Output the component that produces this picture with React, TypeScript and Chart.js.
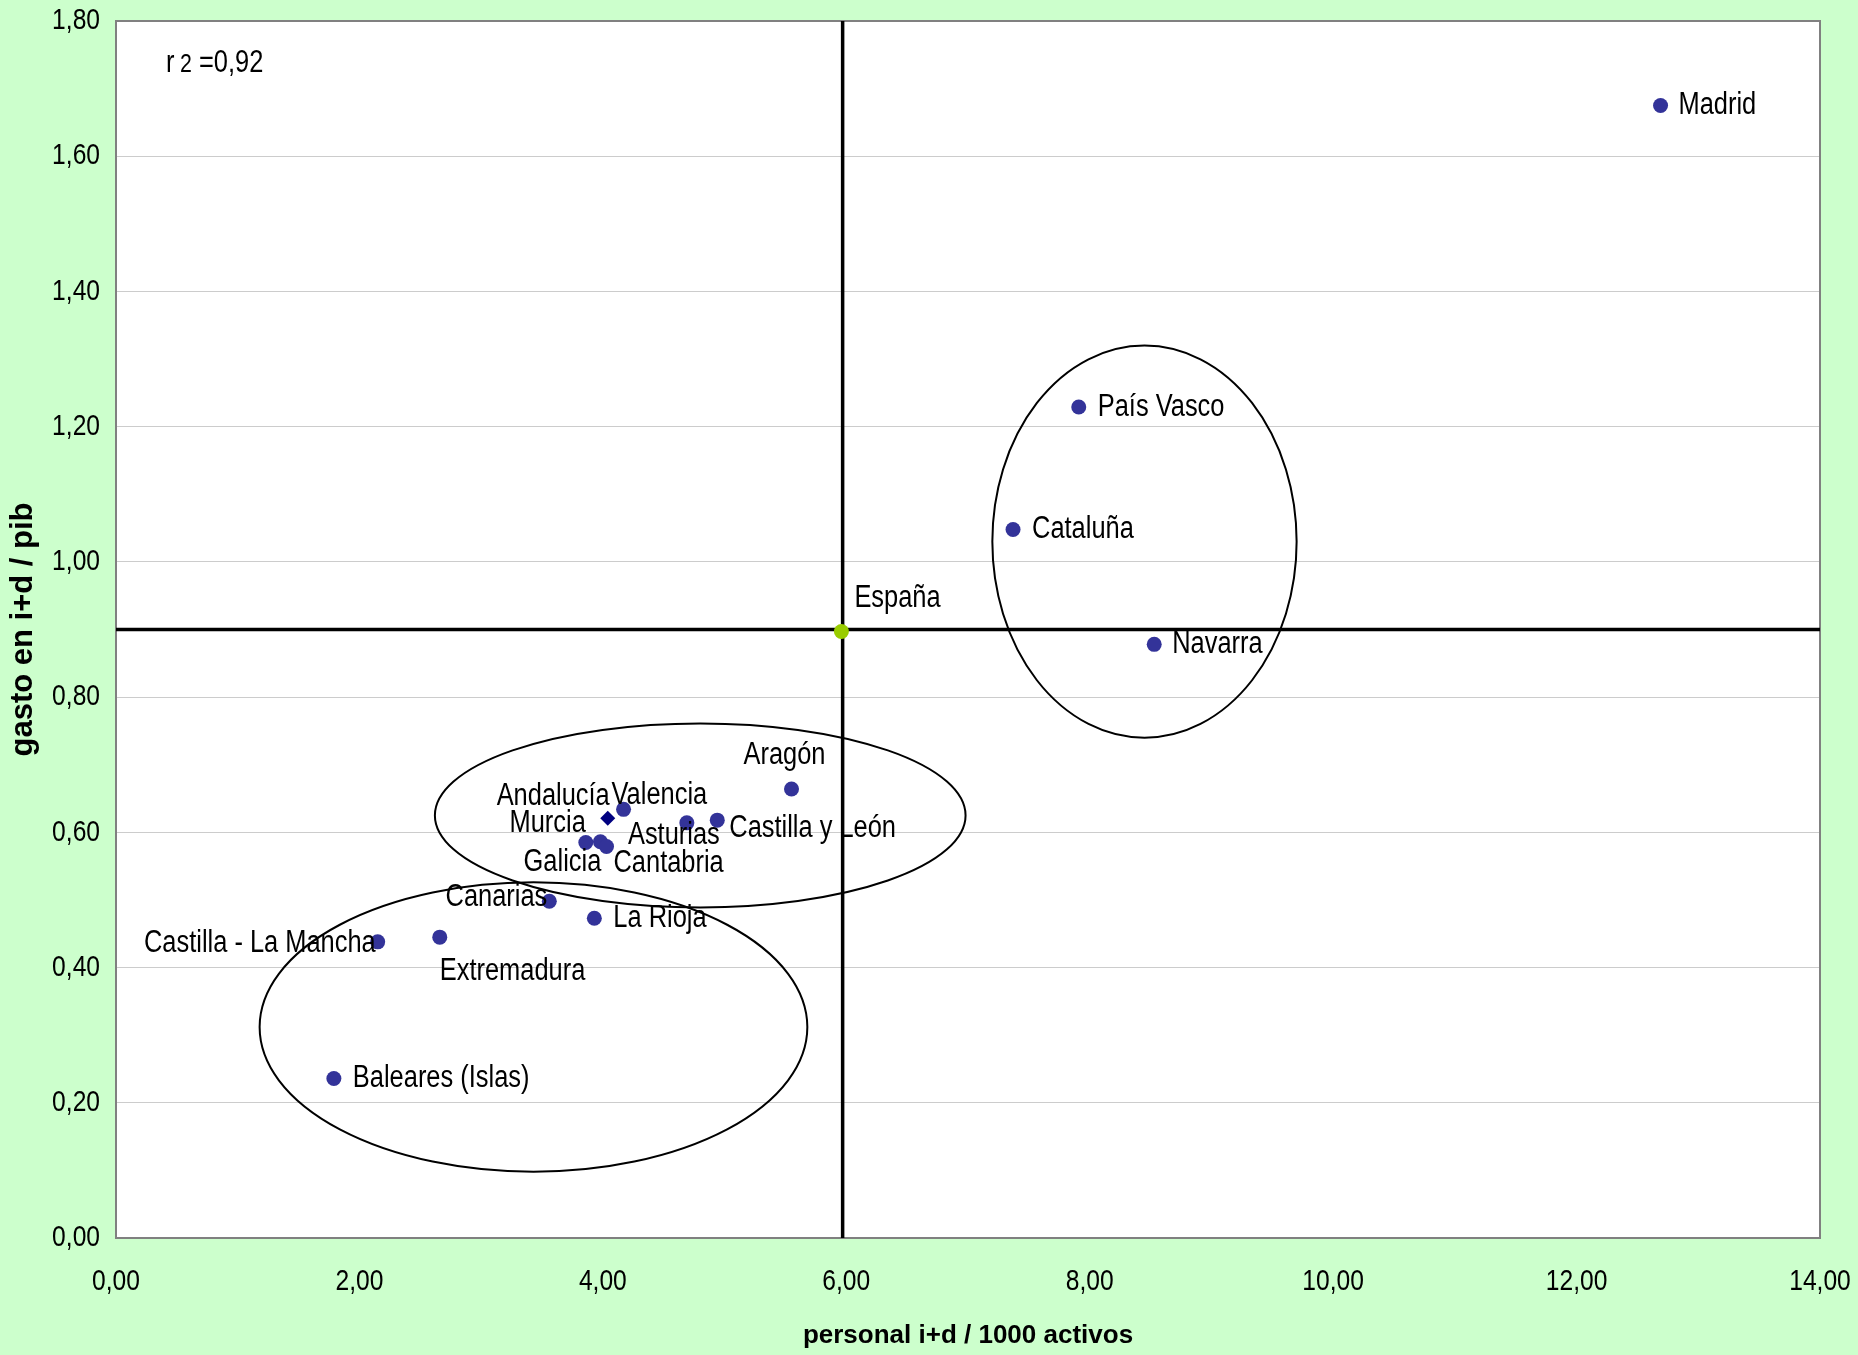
import React, { useEffect, useRef } from "react";
import { Chart, registerables } from "chart.js";

Chart.register(...registerables);

// ---- data ----
const regionNames = [
  "Madrid", "País Vasco", "Cataluña", "Navarra", "España", "Aragón",
  "Andalucía", "Valencia", "Asturias", "Castilla y León", "Murcia",
  "Galicia", "Cantabria", "Canarias", "La Rioja", "Castilla - La Mancha",
  "Extremadura", "Baleares (Islas)",
];
const personalID = [
  12.69, 7.91, 7.37, 8.53, 5.96, 5.55,
  4.04, 4.17, 4.69, 4.94, 3.86,
  3.98, 4.03, 3.56, 3.93, 2.15,
  2.66, 1.79,
];
const gastoPIB = [
  1.675, 1.229, 1.048, 0.878, 0.897, 0.664,
  0.621, 0.634, 0.614, 0.618, 0.585,
  0.586, 0.579, 0.498, 0.473, 0.438,
  0.445, 0.236,
];
const referenceX = 5.97;
const referenceY = 0.9;
const xTicksMax = 14;
const xTickStep = 2;
const yTicksMax = 1.8;
const yTickStep = 0.2;
const r2Text = "0,92";

// ellipses (grouping annotations) in data units
const ellipseCenterX = [8.45, 4.8, 3.43];
const ellipseCenterY = [1.03, 0.625, 0.312];
const ellipseRadiusX = [1.25, 2.18, 2.25];
const ellipseRadiusY = [0.29, 0.136, 0.214];

// ---- label placement (pixels) ----
const labelStyle: Record<string, { align: CanvasTextAlign; dx: number; dy: number }> = {
  "Madrid": { align: "left", dx: 18, dy: 0 },
  "País Vasco": { align: "left", dx: 19, dy: 0 },
  "Cataluña": { align: "left", dx: 19, dy: 0 },
  "Navarra": { align: "left", dx: 18, dy: 0 },
  "España": { align: "left", dx: 13, dy: -33 },
  "Aragón": { align: "center", dx: -7, dy: -34 },
  "Andalucía": { align: "right", dx: 2, dy: -22 },
  "Valencia": { align: "left", dx: -12, dy: -14 },
  "Asturias": { align: "center", dx: -13, dy: 13 },
  "Castilla y León": { align: "left", dx: 12, dy: 8 },
  "Murcia": { align: "right", dx: 0, dy: -19 },
  "Galicia": { align: "center", dx: -38, dy: 21 },
  "Cantabria": { align: "left", dx: 7, dy: 17 },
  "Canarias": { align: "right", dx: -2, dy: -4 },
  "La Rioja": { align: "left", dx: 19, dy: 0 },
  "Castilla - La Mancha": { align: "right", dx: -2, dy: 2 },
  "Extremadura": { align: "left", dx: 0, dy: 34 },
  "Baleares (Islas)": { align: "left", dx: 19, dy: 0 },
};

const REGULAR = '"Liberation Sans", Arial, sans-serif';
const CONDENSE = 0.82;

const fmt = (v: number) => v.toFixed(2).replace(".", ",");

function drawCondensed(
  ctx: CanvasRenderingContext2D,
  text: string,
  x: number,
  y: number,
  align: CanvasTextAlign,
  size: number,
  baseline: CanvasTextBaseline = "middle"
) {
  ctx.save();
  ctx.font = `${size}px ${REGULAR}`;
  ctx.textAlign = align;
  ctx.textBaseline = baseline;
  ctx.translate(x, y);
  ctx.scale(CONDENSE, 1);
  ctx.fillText(text, 0, 0);
  ctx.restore();
}

export default function App() {
  const ref = useRef<HTMLCanvasElement | null>(null);

  useEffect(() => {
    if (!ref.current) return;

    const decorPlugin = {
      id: "decor",
      beforeDraw(chart: any) {
        const { ctx, chartArea: a } = chart;
        ctx.save();
        ctx.fillStyle = "#CCFFCC";
        ctx.fillRect(0, 0, chart.width, chart.height);
        ctx.fillStyle = "#FFFFFF";
        ctx.fillRect(a.left, a.top, a.right - a.left, a.bottom - a.top);
        ctx.restore();
      },
      beforeDatasetsDraw(chart: any) {
        const { ctx, chartArea: a } = chart;
        ctx.save();
        ctx.strokeStyle = "#808080";
        ctx.lineWidth = 2;
        ctx.strokeRect(a.left, a.top, a.right - a.left, a.bottom - a.top);
        ctx.restore();
      },
      afterDatasetsDraw(chart: any) {
        const { ctx, chartArea: a } = chart;
        const xs = chart.scales.x;
        const ys = chart.scales.y;
        ctx.save();
        ctx.fillStyle = "#000";
        // tick labels from the scales' own ticks
        xs.ticks.forEach((t: any) => {
          drawCondensed(ctx, fmt(t.value), xs.getPixelForValue(t.value), a.bottom + 44, "center", 30);
        });
        ys.ticks.forEach((t: any) => {
          drawCondensed(ctx, fmt(t.value), a.left - 16, ys.getPixelForValue(t.value), "right", 30);
        });
        // point labels
        regionNames.forEach((name, i) => {
          const st = labelStyle[name] || { align: "left", dx: 18, dy: 0 };
          const px = xs.getPixelForValue(personalID[i]);
          const py = ys.getPixelForValue(gastoPIB[i]);
          drawCondensed(ctx, name, px + st.dx, py + st.dy, st.align, 31);
        });
        // ellipses
        ctx.strokeStyle = "#000";
        ctx.lineWidth = 2;
        for (let k = 0; k < ellipseCenterX.length; k++) {
          const cx = xs.getPixelForValue(ellipseCenterX[k]);
          const cy = ys.getPixelForValue(ellipseCenterY[k]);
          const rx = Math.abs(xs.getPixelForValue(ellipseCenterX[k] + ellipseRadiusX[k]) - cx);
          const ry = Math.abs(ys.getPixelForValue(ellipseCenterY[k] + ellipseRadiusY[k]) - cy);
          ctx.beginPath();
          ctx.ellipse(cx, cy, rx, ry, 0, 0, Math.PI * 2);
          ctx.stroke();
        }
        // r² annotation
        drawCondensed(ctx, "r", a.left + 50, a.top + 51, "left", 31, "alphabetic");
        drawCondensed(ctx, "2", a.left + 64, a.top + 51, "left", 26, "alphabetic");
        drawCondensed(ctx, "=" + r2Text, a.left + 83, a.top + 51, "left", 31, "alphabetic");
        ctx.restore();
      },
    };

    const idx = (n: string) => regionNames.indexOf(n);
    const regular = regionNames
      .map((n, i) => ({ n, x: personalID[i], y: gastoPIB[i] }))
      .filter((p) => p.n !== "España" && p.n !== "Andalucía")
      .map((p) => ({ x: p.x, y: p.y }));

    const chart = new Chart(ref.current, {
      type: "scatter",
      data: {
        datasets: [
          {
            label: "Comunidades",
            data: regular,
            pointStyle: "circle",
            pointRadius: 7.5,
            backgroundColor: "#333399",
            borderColor: "#333399",
            borderWidth: 0,
            order: 1,
          },
          {
            label: "Andalucía",
            data: [{ x: personalID[idx("Andalucía")], y: gastoPIB[idx("Andalucía")] }],
            pointStyle: "rectRot",
            pointRadius: 7.5,
            backgroundColor: "#000080",
            borderColor: "#000080",
            borderWidth: 0,
            order: 1,
          },
          {
            label: "España",
            data: [{ x: personalID[idx("España")], y: gastoPIB[idx("España")] }],
            pointStyle: "circle",
            pointRadius: 7.5,
            backgroundColor: "#99CC00",
            borderColor: "#99CC00",
            borderWidth: 0,
            order: 0,
          },
          {
            type: "line",
            label: "refH",
            data: [{ x: 0, y: referenceY }, { x: xTicksMax, y: referenceY }],
            borderColor: "#000",
            borderWidth: 3.5,
            pointRadius: 0,
            showLine: true,
            order: 10,
          },
          {
            type: "line",
            label: "refV",
            data: [{ x: referenceX, y: 0 }, { x: referenceX, y: yTicksMax }],
            borderColor: "#000",
            borderWidth: 3.5,
            pointRadius: 0,
            showLine: true,
            order: 10,
          },
        ] as any,
      },
      options: {
        animation: false,
        responsive: false,
        maintainAspectRatio: false,
        layout: { padding: { top: 21, right: 38, left: 0, bottom: 0 } },
        plugins: { legend: { display: false }, tooltip: { enabled: false } },
        scales: {
          x: {
            type: "linear",
            min: 0,
            max: xTicksMax,
            afterFit: (s: any) => {
              s.height = 117;
              s.paddingLeft = 0;
              s.paddingRight = 0;
            },
            ticks: {
              stepSize: xTickStep,
              display: false,
            },
            grid: { display: false, drawTicks: false },
            border: { display: false },
            title: {
              display: true,
              text: "personal i+d / 1000 activos",
              font: { family: REGULAR, size: 26, weight: "bold" },
              color: "#000",
              padding: { top: 0, bottom: 4 },
            },
          },
          y: {
            type: "linear",
            min: 0,
            max: yTicksMax,
            afterFit: (s: any) => {
              s.width = 116;
              s.paddingTop = 0;
              s.paddingBottom = 0;
            },
            ticks: {
              stepSize: yTickStep,
              display: false,
            },
            grid: { color: "#CCCCCC", lineWidth: 1, drawTicks: false },
            border: { display: false },
            title: {
              display: true,
              text: "gasto en i+d / pib",
              font: { family: REGULAR, size: 31, weight: "bold" },
              color: "#000",
              padding: { top: 5, bottom: 0 },
            },
          },
        },
      } as any,
      plugins: [decorPlugin],
    });
    return () => chart.destroy();
  }, []);

  return (
    <div style={{ position: "absolute", left: 0, top: 0, width: 1858, height: 1355 }}>
      <canvas ref={ref} width={1858} height={1355} style={{ display: "block", width: 1858, height: 1355 }} />
    </div>
  );
}
